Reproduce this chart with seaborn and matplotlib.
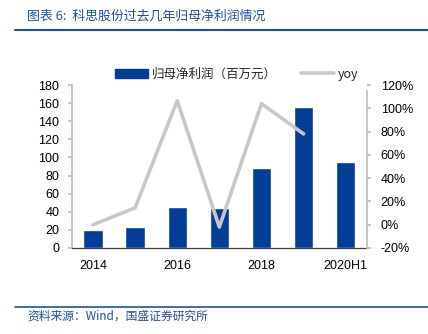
import matplotlib
matplotlib.use("Agg")
import matplotlib.pyplot as plt
import seaborn as sns
import pandas as pd
import numpy as np
from matplotlib.lines import Line2D
from matplotlib.patches import Patch

categories = ["2014", "2015", "2016", "2017", "2018", "2019", "2020H1"]
profit = [20, 23, 45, 44.5, 88.5, 155.5, 95.5]
yoy = [0.0, 14.5, 106.5, -2.0, 104.0, 78.0, np.nan]
tick_labels = ["2014", "", "2016", "", "2018", "", "2020H1"]

sns.set_theme(style="white")
plt.rcParams['font.family'] = ['Liberation Sans', 'Noto Sans CJK SC', 'DejaVu Sans']

BLUE = "#003E98"
GRAY = "#C8C8C8"
TXT_BLUE = "#1F4FA0"

fig = plt.figure(figsize=(4.28, 3.34), dpi=100)
ax = fig.add_axes([0.168, 0.2575, 0.689, 0.488])

df = pd.DataFrame({"cat": categories, "profit": profit, "yoy": yoy, "x": range(len(categories))})
sns.barplot(data=df, x="cat", y="profit", color=BLUE, width=0.46, saturation=1, ax=ax)
ax.set_xlim(-0.5, 6.5)
ax.set_ylim(0, 180)
ax.set_yticks(range(0, 181, 20))
ax.set_xlabel("")
ax.set_ylabel("")
ax.set_xticks(range(len(categories)))
ax.set_xticklabels(tick_labels)
ax.set_xticks(np.arange(-0.5, 7.0, 1.0), minor=True)
ax.tick_params(axis="x", which="major", length=0, pad=9, labelsize=9, colors="black")
ax.tick_params(axis="x", which="minor", length=4, direction="out", color="#404040", width=0.8)
ax.tick_params(axis="y", length=3, direction="out", color="#BFBFBF", pad=6, labelsize=9, colors="black", left=True)
ax.spines["top"].set_visible(False)
ax.spines["right"].set_visible(False)
ax.spines["left"].set_color("#BFBFBF")
ax.spines["bottom"].set_color("#404040")
ax.spines["bottom"].set_linewidth(0.9)

ax2 = ax.twinx()
sns.lineplot(data=df, x="x", y="yoy", color=GRAY, linewidth=2.6, ax=ax2, legend=False)
ax2.set_xlim(-0.5, 6.5)
ax2.set_ylim(-20, 120)
ax2.set_yticks(range(-20, 121, 20))
ax2.set_yticklabels([f"{v}%" for v in range(-20, 121, 20)])
ax2.set_ylabel("")
ax2.set_xlabel("")
ax2.tick_params(axis="y", length=3, direction="out", color="#BFBFBF", pad=7, labelsize=9, colors="black", right=True)
for s in ["top", "left", "bottom"]:
    ax2.spines[s].set_visible(False)
ax2.spines["right"].set_color("#BFBFBF")
ax2.spines["right"].set_bounds(-20, 115)

handles = [Patch(facecolor=BLUE, edgecolor=BLUE), Line2D([0], [0], color=GRAY, linewidth=2.6)]
fig.legend(handles, ["归母净利润（百万元）", "yoy"], loc="center", bbox_to_anchor=(0.553, 0.778),
           ncol=2, frameon=False, prop={"family": ["Noto Sans CJK SC", "DejaVu Sans"], "size": 9},
           handlelength=2.6, handleheight=0.8, handletextpad=0.3, columnspacing=2.0)

fig.text(0.063, 1 - 16 / 334, "图表 6:  科思股份过去几年归母净利润情况", color=TXT_BLUE, fontsize=9.3,
         style="italic", va="center", ha="left", family=["Noto Sans CJK SC", "DejaVu Sans"])
fig.add_artist(Line2D([15 / 428, 1.0], [1 - 30 / 334, 1 - 30 / 334], color=TXT_BLUE, linewidth=1.5))
fig.add_artist(Line2D([15 / 428, 1.0], [1 - 307 / 334, 1 - 307 / 334], color=TXT_BLUE, linewidth=1.2))
fig.text(0.063, 1 - 316 / 334, "资料来源：Wind，国盛证券研究所", color=TXT_BLUE, fontsize=8.5,
         style="italic", va="center", ha="left", family=["Noto Sans CJK SC", "DejaVu Sans"])

fig.savefig("out.png", dpi=100)
